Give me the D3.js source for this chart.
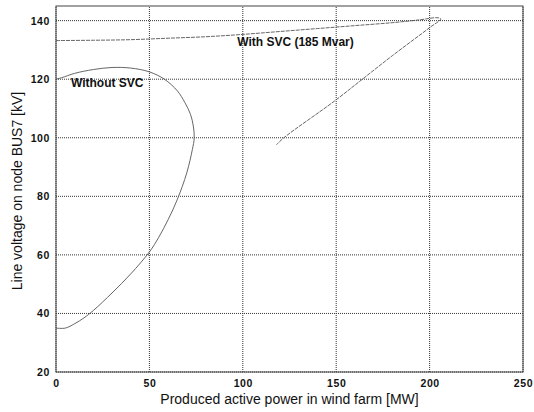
<!DOCTYPE html>
<html><head><meta charset="utf-8">
<script src="https://cdn.jsdelivr.net/npm/d3@7"></script>
<style>body{margin:0;background:#fff}svg{display:block}</style>
</head><body>
<script>
const xTicks = [0, 50, 100, 150, 200, 250];
const yTicks = [20, 40, 60, 80, 100, 120, 140];
const withoutSvcX = [0, 5, 10, 15, 20, 30, 40, 50, 55, 60, 65, 70, 73, 74, 73.5, 72, 69, 65, 58, 50, 40, 30, 20, 10, 3, 0];
const withoutSvcY = [35, 35, 36.5, 38.5, 41, 47, 53.5, 61, 66, 72, 79, 88, 96, 100, 104, 108, 112, 116, 120, 122.5, 123.8, 124, 123.3, 122, 120.5, 120];
const withSvcX = [0, 20, 40, 60, 80, 100, 120, 140, 160, 180, 195, 204, 206, 200, 180, 165, 149, 122, 118];
const withSvcY = [133.2, 133.3, 133.5, 134, 134.5, 135.3, 136.3, 137.3, 138.3, 139.3, 140.3, 141, 140.6, 137.6, 128, 120.5, 112.5, 100, 97.6];
const labels = [{text: "With SVC (185 Mvar)", x: 97, y: 131.5}, {text: "Without SVC", x: 8, y: 117.5}];

const W = 534, H = 412;
const m = {l: 56, r: 11, t: 6, b: 40};
const svg = d3.select("body").append("svg").attr("width", W).attr("height", H);
const x = d3.scaleLinear().domain([0, 250]).range([m.l, W - m.r]);
const y = d3.scaleLinear().domain([20, 145]).range([H - m.b, m.t]);
const font = "Liberation Sans, Arial, sans-serif";

// grid
const g = svg.append("g");
g.selectAll(".gx").data(xTicks).join("line")
  .attr("x1", d => x(d)).attr("x2", d => x(d)).attr("y1", y(20)).attr("y2", y(145))
  .attr("stroke", "#333").attr("stroke-width", 1).attr("stroke-dasharray", "1,1");
g.selectAll(".gy").data(yTicks).join("line")
  .attr("x1", x(0)).attr("x2", x(250)).attr("y1", d => y(d)).attr("y2", d => y(d))
  .attr("stroke", "#333").attr("stroke-width", 1).attr("stroke-dasharray", "1,1");
// frame
svg.append("rect").attr("x", x(0)).attr("y", y(145)).attr("width", x(250) - x(0)).attr("height", y(20) - y(145))
  .attr("fill", "none").attr("stroke", "#444").attr("stroke-width", 1);

// axes labels via d3 axes
const ax = svg.append("g").attr("transform", `translate(0,${y(20)})`)
  .call(d3.axisBottom(x).tickValues(xTicks).tickSize(0).tickPadding(8));
const ay = svg.append("g").attr("transform", `translate(${x(0)},0)`)
  .call(d3.axisLeft(y).tickValues(yTicks).tickSize(0).tickPadding(6));
[ax, ay].forEach(a => {
  a.select(".domain").remove();
  a.selectAll("text").attr("font-family", font).attr("font-size", 10.5).attr("font-weight", "bold")
    .attr("letter-spacing", 0.6).attr("fill", "#111");
});

const line = d3.line().x(d => x(d[0])).y(d => y(d[1])).curve(d3.curveCatmullRom);
svg.append("path").datum(withoutSvcX.map((v, i) => [v, withoutSvcY[i]]))
  .attr("d", line).attr("fill", "none").attr("stroke", "#555").attr("stroke-width", 0.9);
svg.append("path").datum(withSvcX.map((v, i) => [v, withSvcY[i]]))
  .attr("d", line).attr("fill", "none").attr("stroke", "#555").attr("stroke-width", 0.9).attr("stroke-dasharray", "4,1");

svg.selectAll(".lab").data(labels).join("text")
  .attr("x", d => x(d.x)).attr("y", d => y(d.y))
  .attr("font-family", font).attr("font-size", 12).attr("font-weight", "bold")
  .attr("fill", "#111").text(d => d.text);

svg.append("text").attr("x", (x(0) + x(250)) / 2).attr("y", 404).attr("text-anchor", "middle")
  .attr("font-family", font).attr("font-size", 14).attr("fill", "#111")
  .text("Produced active power in wind farm [MW]");
svg.append("text").attr("transform", `translate(22,${(y(20) + y(145)) / 2 + 2}) rotate(-90)`).attr("text-anchor", "middle")
  .attr("font-family", font).attr("font-size", 14).attr("fill", "#111")
  .text("Line voltage on node BUS7 [kV]");
</script>
</body></html>
